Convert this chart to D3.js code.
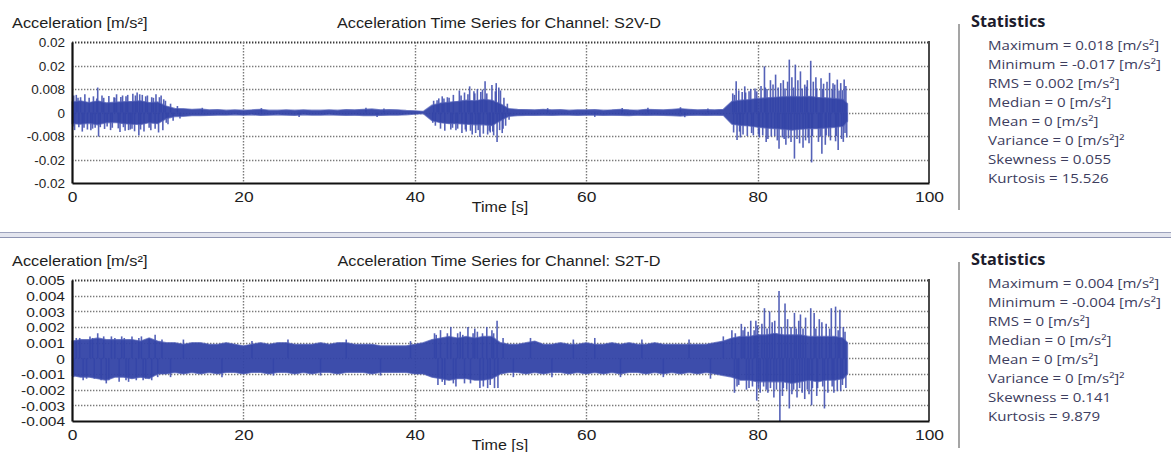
<!DOCTYPE html>
<html>
<head>
<meta charset="utf-8">
<script src="https://cdn.jsdelivr.net/npm/d3@7"></script>
<style>
  html, body { margin: 0; padding: 0; background: #fff; }
  svg { display: block; }
  .plot-text { font-family: "Liberation Sans", Arial, sans-serif; fill: #1e1e1e; }
  .stats-text { font-family: "Open Sans", "Noto Sans", sans-serif; }
</style>
</head>
<body>
<svg id="chart" width="1171" height="452"></svg>
<script>
// ---- Data -------------------------------------------------------------
// Envelope sample times [s]
const envTime = [0,1,2,3,4,5,6,7,8,9,10,11,12,13,14,15,16,17,18,19,20,21,22,23,24,25,26,27,28,29,
  30,31,32,33,34,35,36,37,38,39,40,41,42,43,44,45,46,47,48,49,50,51,52,53,54,55,56,57,58,59,
  60,61,62,63,64,65,66,67,68,69,70,71,72,73,74,75,76,77,78,79,80,81,82,83,84,85,86,87,88,89,90,90.5];

// Channel S2V-D: upper / lower edge of the dense signal core [m/s²]
const s2vUpper = [0.0036,0.0040,0.0034,0.0040,0.0033,0.0035,0.0037,0.0038,0.0040,0.0034,0.0036,0.0022,0.0014,0.0013,0.0011,0.0012,0.0009,0.0010,0.0008,0.0009,
  0.0008,0.0009,0.0011,0.0008,0.0008,0.0009,0.0008,0.0009,0.0008,0.0008,0.0009,0.0008,0.0010,0.0009,0.0011,0.0012,0.0009,0.0010,0.0009,0.0007,
  0.0006,0.0004,0.0025,0.0032,0.0035,0.0038,0.0042,0.0040,0.0045,0.0042,0.0030,0.0013,0.0011,0.0010,0.0009,0.0011,0.0009,0.0010,0.0008,0.0009,
  0.0009,0.0010,0.0008,0.0009,0.0011,0.0009,0.0008,0.0011,0.0010,0.0009,0.0011,0.0013,0.0011,0.0009,0.0010,0.0009,0.0011,0.0038,0.0042,0.0044,
  0.0048,0.0050,0.0052,0.0054,0.0055,0.0054,0.0055,0.0052,0.0050,0.0048,0.0045,0.0030];
const s2vLower = [-0.0038,-0.0040,-0.0037,-0.0042,-0.0035,-0.0034,-0.0038,-0.0040,-0.0041,-0.0035,-0.0038,-0.0021,-0.0014,-0.0013,-0.0011,-0.0011,-0.0010,-0.0009,-0.0009,-0.0008,
  -0.0009,-0.0008,-0.0010,-0.0009,-0.0008,-0.0009,-0.0010,-0.0008,-0.0009,-0.0009,-0.0008,-0.0009,-0.0010,-0.0009,-0.0011,-0.0011,-0.0010,-0.0009,-0.0009,-0.0008,
  -0.0006,-0.0004,-0.0028,-0.0035,-0.0038,-0.0038,-0.0040,-0.0042,-0.0042,-0.0045,-0.0028,-0.0013,-0.0011,-0.0010,-0.0010,-0.0009,-0.0010,-0.0009,-0.0009,-0.0010,
  -0.0009,-0.0009,-0.0010,-0.0009,-0.0010,-0.0011,-0.0009,-0.0010,-0.0009,-0.0010,-0.0011,-0.0012,-0.0010,-0.0009,-0.0010,-0.0009,-0.0010,-0.0040,-0.0044,-0.0046,
  -0.0050,-0.0053,-0.0055,-0.0057,-0.0060,-0.0057,-0.0055,-0.0055,-0.0053,-0.0051,-0.0047,-0.0030];
// Channel S2V-D: individual oscillation peaks [time s, value m/s²]
const s2vSpikes = [
  [0.1,-0.0048],[0.2,0.0058],[0.3,-0.0060],[0.5,0.0060],[0.7,0.0050],[0.8,-0.0050],[1.0,0.0052],[1.2,-0.0065],[1.4,-0.0052],[1.5,0.0062],
  [1.8,-0.0058],[2.0,0.0050],[2.2,-0.0060],[2.4,-0.0055],[2.5,0.0055],[2.7,-0.0052],[2.9,0.0048],[3.0,0.0085],[3.1,-0.0082],[3.3,-0.0050],
  [3.5,0.0058],[3.7,0.0050],[3.8,-0.0056],[4.1,-0.0048],[4.3,0.0056],[4.5,-0.0060],[4.7,-0.0052],[4.9,0.0052],[5.0,0.0050],[5.2,0.0062],
  [5.4,-0.0054],[5.6,-0.0066],[5.7,0.0053],[5.9,0.0058],[6.0,-0.0050],[6.2,-0.0062],[6.3,0.0055],[6.5,0.0060],[6.6,-0.0060],[6.8,-0.0058],
  [7.0,-0.0055],[7.1,0.0064],[7.3,-0.0064],[7.4,0.0058],[7.6,0.0068],[7.8,-0.0078],[7.9,0.0062],[8.0,-0.0058],[8.2,0.0060],[8.4,-0.0065],
  [8.6,0.0055],[8.8,0.0058],[9.0,-0.0052],[9.2,-0.0060],[9.3,0.0052],[9.5,0.0050],[9.7,-0.0055],[9.8,0.0062],[10.1,-0.0068],[10.2,0.0052],
  [10.4,0.0058],[10.6,-0.0060],[10.7,0.0045],[10.9,0.0040],[11.0,-0.0035],[11.2,-0.0040],[11.5,0.0030],[11.8,-0.0028],[12.3,0.0022],[12.6,-0.0020],
  [15.2,0.0016],[22.1,0.0015],[26.5,-0.0015],[34.3,0.0016],[35.6,-0.0015],[36.4,0.0014],
  [42.1,-0.0035],[42.2,0.0040],[42.4,-0.0045],[42.6,0.0042],[42.8,0.0048],[43.0,-0.0055],[43.2,0.0055],[43.4,0.0048],[43.5,-0.0062],[43.8,0.0052],
  [44.0,0.0050],[44.2,-0.0058],[44.4,-0.0052],[44.5,0.0060],[44.8,-0.0060],[45.0,-0.0055],[45.2,0.0075],[45.4,0.0058],[45.5,-0.0070],[45.8,0.0068],
  [45.9,-0.0058],[46.0,-0.0065],[46.2,0.0062],[46.4,0.0089],[46.5,-0.0062],[46.7,-0.0075],[46.9,0.0072],[47.0,0.0065],[47.1,-0.0070],[47.3,0.0080],
  [47.4,-0.0060],[47.6,-0.0083],[47.7,0.0070],[47.9,0.0078],[48.0,-0.0072],[48.2,0.0106],[48.4,0.0065],[48.5,-0.0075],[48.7,-0.0062],[48.8,-0.0068],
  [49.0,0.0094],[49.1,-0.0065],[49.2,-0.0078],[49.4,0.0072],[49.5,0.0100],[49.6,-0.0100],[49.8,0.0085],[49.9,-0.0060],[50.0,0.0075],[50.2,-0.0070],
  [50.3,-0.0055],[50.4,0.0050],[50.6,-0.0045],[50.8,0.0030],[51.0,-0.0025],
  [55.5,0.0015],[61.0,-0.0015],[64.2,0.0015],[67.2,0.0016],[71.0,0.0018],[71.5,-0.0016],[74.2,0.0014],
  [77.1,0.0065],[77.2,-0.0068],[77.3,0.0060],[77.5,0.0106],[77.6,-0.0094],[77.8,0.0075],[77.9,-0.0065],[78.0,-0.0085],[78.2,0.0070],[78.3,-0.0075],
  [78.5,0.0089],[78.6,0.0068],[78.8,-0.0080],[79.0,0.0072],[79.2,0.0080],[79.3,-0.0070],[79.5,-0.0078],[79.7,0.0082],[79.9,0.0072],[80.1,-0.0075],
  [80.2,-0.0085],[80.4,0.0090],[80.6,-0.0078],[80.8,0.0157],[80.9,0.0085],[81.0,-0.0100],[81.1,0.0080],[81.2,-0.0090],[81.5,0.0110],[81.6,-0.0082],
  [81.8,0.0095],[82.0,-0.0080],[82.1,0.0129],[82.3,-0.0095],[82.4,0.0085],[82.5,-0.0123],[82.7,0.0100],[82.9,-0.0085],[83.0,0.0110],[83.1,-0.0090],
  [83.2,0.0082],[83.3,-0.0110],[83.5,0.0105],[83.6,-0.0088],[83.7,0.0180],[83.9,-0.0100],[84.0,0.0120],[84.2,0.0085],[84.3,-0.0157],[84.4,0.0163],
  [84.6,-0.0090],[84.7,0.0110],[84.9,-0.0105],[85.0,0.0140],[85.2,0.0082],[85.3,-0.0120],[85.5,0.0095],[85.6,-0.0095],[85.7,0.0088],[85.8,0.0110],
  [85.9,-0.0085],[86.0,-0.0105],[86.2,0.0176],[86.3,-0.0170],[86.4,-0.0080],[86.5,0.0105],[86.8,0.0120],[86.9,0.0082],[87.1,-0.0100],[87.3,-0.0082],
  [87.4,0.0117],[87.5,-0.0140],[87.6,0.0080],[87.7,0.0098],[87.9,-0.0110],[88.0,-0.0078],[88.1,0.0105],[88.3,-0.0080],[88.4,0.0135],[88.5,-0.0095],
  [88.7,0.0078],[88.8,0.0100],[89.0,0.0095],[89.1,-0.0098],[89.2,-0.0080],[89.3,0.0112],[89.4,-0.0128],[89.5,0.0075],[89.7,0.0100],[89.8,-0.0090],
  [89.9,0.0076],[90.0,-0.0100],[90.1,0.0112],[90.2,-0.0070],[90.3,0.0090],[90.4,-0.0085]];

// Channel S2T-D: upper / lower edge of the dense signal core [m/s²]
const s2tUpper = [0.0011,0.0012,0.0012,0.0013,0.0012,0.0012,0.0012,0.0012,0.0011,0.0013,0.0011,0.0010,0.0010,0.0009,0.0010,0.0010,0.0009,0.0009,0.0010,0.0009,
  0.0008,0.0009,0.0010,0.0009,0.0010,0.0010,0.0009,0.0009,0.0009,0.0010,0.0009,0.0010,0.0010,0.0009,0.0009,0.0009,0.0008,0.0008,0.0008,0.0008,
  0.0009,0.0010,0.0012,0.0013,0.0014,0.0013,0.0014,0.0013,0.0014,0.0014,0.0010,0.0009,0.0009,0.0010,0.0011,0.0009,0.0009,0.0010,0.0009,0.0009,
  0.0010,0.0009,0.0009,0.0010,0.0009,0.0010,0.0009,0.0009,0.0010,0.0009,0.0009,0.0009,0.0009,0.0009,0.0009,0.0010,0.0011,0.0013,0.0014,0.0014,
  0.0015,0.0015,0.0016,0.0015,0.0015,0.0015,0.0014,0.0014,0.0014,0.0014,0.0013,0.0010];
const s2tLower = [-0.0011,-0.0012,-0.0012,-0.0013,-0.0014,-0.0012,-0.0012,-0.0013,-0.0012,-0.0013,-0.0010,-0.0010,-0.0009,-0.0010,-0.0009,-0.0010,-0.0009,-0.0010,-0.0009,-0.0009,
  -0.0010,-0.0009,-0.0009,-0.0010,-0.0009,-0.0009,-0.0010,-0.0009,-0.0010,-0.0009,-0.0009,-0.0010,-0.0009,-0.0009,-0.0009,-0.0010,-0.0009,-0.0009,-0.0009,-0.0009,
  -0.0010,-0.0010,-0.0012,-0.0013,-0.0014,-0.0013,-0.0013,-0.0014,-0.0014,-0.0013,-0.0010,-0.0009,-0.0009,-0.0010,-0.0009,-0.0010,-0.0009,-0.0009,-0.0010,-0.0009,
  -0.0010,-0.0009,-0.0010,-0.0009,-0.0010,-0.0009,-0.0009,-0.0010,-0.0009,-0.0010,-0.0009,-0.0010,-0.0009,-0.0010,-0.0009,-0.0010,-0.0011,-0.0012,-0.0014,-0.0014,
  -0.0015,-0.0015,-0.0015,-0.0015,-0.0016,-0.0015,-0.0014,-0.0015,-0.0014,-0.0014,-0.0013,-0.0010];
// Channel S2T-D: individual oscillation peaks [time s, value m/s²]
const s2tSpikes = [
  [0.2,-0.0012],[0.5,0.0013],[0.9,0.0013],[1.3,-0.0014],[1.7,-0.0013],[2.1,0.0014],[2.4,0.0013],[2.6,-0.0013],[3.0,0.0016],[3.4,-0.0014],
  [3.7,0.0014],[4.0,-0.0016],[4.3,-0.0014],[4.6,0.0014],[5.0,0.0013],[5.5,-0.0015],[5.8,0.0014],[6.1,0.0013],[6.3,-0.0014],[6.6,-0.0015],
  [7.0,0.0014],[7.5,-0.0014],[7.8,0.0013],[8.1,0.0014],[8.3,-0.0014],[8.6,-0.0013],[9.0,0.0013],[9.3,-0.0014],[9.7,0.0015],[10.0,-0.0012],
  [10.5,0.0012],[11.5,-0.0012],[13.0,0.0012],[17.5,-0.0012],[21.0,0.0011],[23.5,-0.0011],[25.2,0.0012],[29.0,-0.0011],[32.0,0.0012],[36.0,-0.0011],[39.5,0.0011],
  [42.3,0.0016],[42.5,0.0015],[42.7,-0.0017],[43.0,0.0018],[43.2,-0.0015],[43.5,-0.0017],[43.8,0.0016],[44.2,0.0020],[44.5,-0.0016],[44.8,-0.0018],
  [45.0,0.0016],[45.3,0.0017],[45.6,0.0015],[45.8,-0.0016],[46.2,0.0020],[46.5,-0.0016],[46.8,0.0016],[47.0,0.0019],[47.3,0.0017],[47.6,-0.0019],
  [47.9,0.0016],[48.0,-0.0018],[48.4,0.0020],[48.5,-0.0019],[48.8,-0.0017],[49.0,0.0018],[49.2,0.0016],[49.3,-0.0019],[49.6,0.0024],[49.7,-0.0019],[50.3,0.0013],
  [51.5,-0.0012],[53.5,0.0013],[56.0,-0.0012],[58.5,0.0012],[61.0,0.0013],[64.0,-0.0012],[66.5,0.0012],[69.0,-0.0012],[72.0,0.0012],[74.5,-0.0013],[76.0,0.0014],
  [77.0,0.0018],[77.3,-0.0022],[77.4,0.0016],[77.6,-0.0018],[77.8,-0.0017],[78.1,0.0022],[78.3,0.0018],[78.5,0.0020],[78.7,-0.0020],[78.9,0.0017],
  [79.0,-0.0019],[79.2,0.0024],[79.4,-0.0018],[79.6,0.0018],[79.8,0.0024],[79.9,-0.0027],[80.0,0.0021],[80.1,-0.0019],[80.3,-0.0022],[80.5,0.0022],
  [80.7,-0.0018],[80.8,0.0032],[81.0,-0.0020],[81.1,0.0019],[81.2,-0.0022],[81.4,0.0030],[81.5,-0.0019],[81.7,0.0023],[81.9,-0.0025],[82.0,0.0024],
  [82.2,-0.0020],[82.5,0.0043],[82.6,-0.0040],[82.8,0.0020],[82.9,-0.0024],[83.0,-0.0019],[83.2,0.0035],[83.4,-0.0020],[83.5,0.0025],[83.7,-0.0032],
  [83.9,0.0020],[84.0,-0.0023],[84.2,-0.0020],[84.3,0.0029],[84.5,0.0019],[84.6,-0.0025],[84.8,0.0024],[84.9,-0.0019],[85.0,0.0028],[85.2,-0.0022],
  [85.3,0.0019],[85.5,-0.0026],[85.6,0.0026],[85.8,-0.0020],[86.0,-0.0023],[86.2,0.0032],[86.3,-0.0030],[86.4,-0.0019],[86.6,0.0029],[86.8,0.0019],
  [86.9,-0.0024],[87.0,-0.0019],[87.2,0.0025],[87.5,0.0023],[87.6,-0.0018],[87.8,-0.0032],[88.0,0.0022],[88.2,-0.0022],[88.4,0.0019],[88.6,0.0032],
  [88.7,-0.0018],[88.9,-0.0022],[89.1,0.0033],[89.3,-0.0021],[89.4,0.0018],[89.6,0.0031],[89.7,-0.0021],[89.9,-0.0017],[90.0,0.0020],[90.2,0.0017],[90.3,-0.0019]];

// Axis ticks and their printed labels
const timeTicks = [0, 20, 40, 60, 80, 100];
const s2vTicks = [0.024, 0.016, 0.008, 0, -0.008, -0.016, -0.024];
const s2vTickLabels = ["0.02", "0.02", "0.008", "0", "-0.008", "-0.02", "-0.02"];
const s2tTicks = [0.005, 0.004, 0.003, 0.002, 0.001, 0, -0.001, -0.002, -0.003, -0.004];
const s2tTickLabels = ["0.005", "0.004", "0.003", "0.002", "0.001", "0", "-0.001", "-0.002", "-0.003", "-0.004"];

// Summary statistics shown beside each chart
const s2vStats = ["Maximum = 0.018 [m/s²]", "Minimum = -0.017 [m/s²]", "RMS = 0.002 [m/s²]", "Median = 0 [m/s²]",
  "Mean = 0 [m/s²]", "Variance = 0 [m/s²]²", "Skewness = 0.055", "Kurtosis = 15.526"];
const s2tStats = ["Maximum = 0.004 [m/s²]", "Minimum = -0.004 [m/s²]", "RMS = 0 [m/s²]", "Median = 0 [m/s²]",
  "Mean = 0 [m/s²]", "Variance = 0 [m/s²]²", "Skewness = 0.141", "Kurtosis = 9.879"];

// ---- Layout -----------------------------------------------------------
const svg = d3.select("#chart");
const plotLeft = 72, plotRight = 929;
const signalColor = "#3343a6";

const panels = [
  { channel: "S2V-D", top: 42, bottom: 183, ticks: s2vTicks, labels: s2vTickLabels, tickStretch: 1.0,
    upper: s2vUpper, lower: s2vLower, spikes: s2vSpikes, stats: s2vStats },
  { channel: "S2T-D", top: 280, bottom: 421, ticks: s2tTicks, labels: s2tTickLabels, tickStretch: 1.15,
    upper: s2tUpper, lower: s2tLower, spikes: s2tSpikes, stats: s2tStats }
];

const x = d3.scaleLinear().domain([0, 100]).range([plotLeft, plotRight]);

// Widen text horizontally around its anchor point
function stretch(sel, sx) {
  sel.each(function () {
    const t = d3.select(this);
    const tx = +t.attr("x") || 0, ty = +t.attr("y") || 0;
    t.attr("x", 0).attr("y", 0).attr("transform", `translate(${tx},${ty}) scale(${sx},1)`);
  });
  return sel;
}

// Separator between the two charts
svg.append("rect").attr("x", 0).attr("y", 232).attr("width", 1171).attr("height", 6).attr("fill", "#e3e5ee");
svg.append("line").attr("x1", 0).attr("x2", 1171).attr("y1", 232.5).attr("y2", 232.5).attr("stroke", "#9da3bd").attr("stroke-width", 1);
svg.append("line").attr("x1", 0).attr("x2", 1171).attr("y1", 237.5).attr("y2", 237.5).attr("stroke", "#8d94b2").attr("stroke-width", 1.2);

panels.forEach(p => {
  const g = svg.append("g");
  const y = d3.scaleLinear().domain(d3.extent(p.ticks)).range([p.bottom, p.top]);

  // Dotted grid
  const grid = g.append("g").attr("stroke", "#7a7a7a").attr("stroke-width", 1.4).attr("stroke-dasharray", "1.4,1.6");
  grid.selectAll("line.h").data(p.ticks.slice(0, -1)).join("line")
    .attr("x1", plotLeft).attr("x2", plotRight)
    .attr("y1", d => Math.round(y(d)) + 0.5).attr("y2", d => Math.round(y(d)) + 0.5)
    .attr("stroke", (d, i) => i === 0 ? "#3a3a3a" : null)
    .attr("stroke-width", (d, i) => i === 0 ? 2 : null);
  grid.selectAll("line.v").data(timeTicks.slice(1, -1)).join("line")
    .attr("y1", p.top).attr("y2", p.bottom)
    .attr("x1", d => Math.round(x(d)) + 0.5).attr("x2", d => Math.round(x(d)) + 0.5);

  // Right border
  g.append("line").attr("x1", plotRight).attr("x2", plotRight).attr("y1", p.top - 1).attr("y2", p.bottom)
    .attr("stroke", "#4a4a4a").attr("stroke-width", 2);

  // Signal: oscillation peaks, then the dense core on top
  g.append("g").selectAll("line").data(p.spikes).join("line")
    .attr("x1", d => x(d[0])).attr("x2", d => x(d[0]))
    .attr("y1", y(0)).attr("y2", d => y(d[1]))
    .attr("stroke", "#4251b0").attr("stroke-width", 1.6).attr("stroke-opacity", 0.9);

  const area = d3.area()
    .x((d, i) => x(envTime[i]))
    .y0((d, i) => y(p.lower[i]))
    .y1(d => y(d));
  g.append("path").datum(p.upper).attr("d", area)
    .attr("fill", signalColor).attr("fill-opacity", 0.95)
    .attr("stroke", "#5361b8").attr("stroke-width", 1.2).attr("stroke-opacity", 0.7);

  // Axes
  const yAxis = d3.axisLeft(y).tickValues(p.ticks).tickSize(0).tickPadding(8)
    .tickFormat((d, i) => p.labels[i]);
  const ya = g.append("g").attr("transform", `translate(${plotLeft},0)`).call(yAxis);
  ya.select(".domain").attr("stroke", "#111").attr("stroke-width", 2.2);
  ya.selectAll("text").attr("class", "plot-text").style("font-size", "13.5px").attr("dy", "0.36em").attr("x", -7);
  stretch(ya.selectAll("text"), p.tickStretch);

  const xAxis = d3.axisBottom(x).tickValues(timeTicks).tickSize(0).tickPadding(9).tickFormat(d3.format("d"));
  const xa = g.append("g").attr("transform", `translate(0,${p.bottom})`).call(xAxis);
  xa.select(".domain").attr("stroke", "#111").attr("stroke-width", 2.2);
  xa.selectAll("text").attr("class", "plot-text").style("font-size", "14.5px").attr("dy", "0.71em");
  stretch(xa.selectAll("text"), 1.2);

  // Labels
  stretch(g.append("text").attr("class", "plot-text").attr("x", 12).attr("y", p.top - 14)
    .style("font-size", "14px").text("Acceleration [m/s²]"), 1.17);
  stretch(g.append("text").attr("class", "plot-text").attr("x", 499).attr("y", p.top - 14)
    .attr("text-anchor", "middle").style("font-size", "14px")
    .text("Acceleration Time Series for Channel: " + p.channel), 1.16);
  stretch(g.append("text").attr("class", "plot-text").attr("x", 500).attr("y", p.bottom + 29)
    .attr("text-anchor", "middle").style("font-size", "14px").text("Time [s]"), 1.15);

  // Statistics panel
  g.append("line").attr("x1", 959).attr("x2", 959).attr("y1", p.top - 18).attr("y2", p.bottom + 27)
    .attr("stroke", "#a5a5a5").attr("stroke-width", 2);
  stretch(g.append("text").attr("class", "stats-text").attr("x", 971).attr("y", p.top - 15)
    .style("font-size", "15.5px").style("font-weight", "700").attr("fill", "#1c1c2c").text("Statistics"), 1.05);
  stretch(g.append("g").selectAll("text").data(p.stats).join("text")
    .attr("class", "stats-text").attr("x", 988).attr("y", (d, i) => p.top + 8 + i * 19)
    .style("font-size", "13px").attr("fill", "#3d3d5e").text(d => d), 1.16);
});
</script>
</body>
</html>
